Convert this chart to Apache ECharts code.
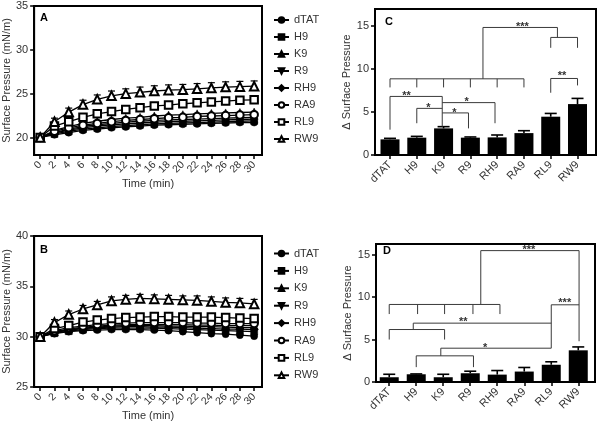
<!DOCTYPE html>
<html><head><meta charset="utf-8">
<script src="https://cdn.jsdelivr.net/npm/echarts@6/dist/echarts.min.js"></script>
<style>html,body{margin:0;padding:0;background:#fff}#c{width:600px;height:423px}</style>
</head><body><div id="c"></div>
<script>
// ---------- data ----------
const times = [0,2,4,6,8,10,12,14,16,18,20,22,24,26,28,30];
const names = ['dTAT','H9','K9','R9','RH9','RA9','RL9','RW9'];

// Panel A (initial pressure 20 mN/m)
const aDTAT = [20,20.3,20.55,20.8,20.95,21.1,21.2,21.3,21.4,21.45,21.5,21.55,21.6,21.65,21.7,21.7];
const aH9   = [20,20.4,20.7,20.95,21.1,21.25,21.35,21.45,21.55,21.6,21.65,21.7,21.75,21.8,21.85,21.9];
const aK9   = [20,20.8,21.25,21.6,21.85,22.05,22.2,22.3,22.45,22.55,22.6,22.7,22.75,22.8,22.85,22.9];
const aR9   = [20,20.55,20.95,21.25,21.45,21.6,21.75,21.85,21.95,22.0,22.05,22.1,22.15,22.2,22.25,22.3];
const aRH9  = [20,20.5,20.85,21.1,21.3,21.45,21.55,21.65,21.75,21.8,21.85,21.9,21.95,22.0,22.05,22.1];
const aRA9  = [20,20.7,21.1,21.4,21.6,21.8,21.95,22.05,22.15,22.25,22.3,22.4,22.45,22.5,22.55,22.6];
const aRL9  = [20,21.3,21.8,22.3,22.7,22.95,23.2,23.4,23.6,23.7,23.85,23.95,24.05,24.15,24.25,24.3];
const aRW9  = [20,21.8,22.9,23.75,24.35,24.75,25.0,25.15,25.3,25.4,25.45,25.55,25.65,25.75,25.8,25.85];
const aRW9Err = [0,0.4,0.45,0.5,0.5,0.55,0.55,0.6,0.6,0.6,0.6,0.6,0.6,0.6,0.6,0.6];

// Panel B (initial pressure 30 mN/m)
const bDTAT = [30,30.3,30.5,30.6,30.65,30.7,30.7,30.7,30.65,30.6,30.5,30.4,30.3,30.25,30.15,30.05];
const bH9   = [30,30.35,30.55,30.7,30.8,30.85,30.85,30.85,30.85,30.8,30.75,30.7,30.65,30.6,30.55,30.5];
const bK9   = [30,30.5,30.75,30.95,31.05,31.15,31.2,31.2,31.2,31.2,31.2,31.15,31.15,31.1,31.1,31.1];
const bR9   = [30,30.45,30.7,30.85,30.95,31.05,31.1,31.1,31.1,31.05,31.05,31.0,31.0,30.95,30.9,30.9];
const bRH9  = [30,30.4,30.65,30.8,30.9,30.95,31.0,31.0,30.95,30.95,30.9,30.85,30.8,30.75,30.75,30.7];
const bRA9  = [30,30.6,30.9,31.05,31.2,31.3,31.35,31.4,31.4,31.4,31.4,31.35,31.35,31.3,31.3,31.3];
const bRL9  = [30,30.8,31.1,31.45,31.65,31.8,31.9,31.95,32.0,32.0,31.95,31.95,31.95,31.9,31.85,31.8];
const bRW9  = [30,31.4,32.2,32.75,33.15,33.55,33.7,33.8,33.75,33.7,33.65,33.6,33.5,33.4,33.35,33.25];
const bRW9Err = [0,0.3,0.35,0.35,0.35,0.4,0.4,0.4,0.4,0.4,0.4,0.45,0.45,0.45,0.45,0.45];

// Panel C / D bars (delta surface pressure)
const cValues = [1.82,2.02,3.1,2.02,2.05,2.55,4.46,5.93];
const cErrors = [0.12,0.15,0.2,0.08,0.28,0.28,0.38,0.66];
const dValues = [0.56,0.91,0.56,1.03,0.87,1.23,2.03,3.73];
const dErrors = [0.35,0.04,0.35,0.24,0.48,0.48,0.35,0.4];

// tick labels
const timeLabelsA = [0,4,8,12,16,20,24,28];
const timeLabelsB = [2,6,10,14,18,22,26,30];
const yTicksA = [20,25,30,35];
const yTicksB = [25,30,35,40];
const yTicksBar = [0,5,10,15];
const catIdx = [0,1,2,3,4,5,6,7];

// significance annotations [x1,y1,x2,y2] in data units (category index, value)
const cBrackets = [
  [0,8.87,5,8.87],[0,8.87,0,7.87],[1,8.87,1,7.87],[2,8.87,2,7.87],[3,8.87,3,7.87],[4,8.87,4,7.87],[5,8.87,5,7.87],
  [3.47,8.87,3.47,14.85],[3.47,14.85,6.25,14.85],[6.25,14.85,6.25,13.69],
  [6,13.69,7,13.69],[6,13.69,6,12.48],[7,13.69,7,12.48],
  [6,8.91,7,8.91],[6,8.91,6,7.25],[7,8.91,7,8.1],
  [0,6.82,1.95,6.82],[0,6.82,0,2.95],[1.95,6.82,1.95,3.3],
  [1,5.43,1.95,5.43],[1,5.43,1,3.7],
  [1.95,4.9,2.93,4.9],[2.93,4.9,2.93,3.1],
  [1.95,6.1,3.92,6.1],[3.92,6.1,3.92,3.7]
];
const cStarText = ['**','*','*','*','***','**'];
const cStarPos = [[0.62,7.25],[1.43,5.85],[2.4,5.27],[2.86,6.55],[4.94,15.25],[6.42,9.6]];

const dBrackets = [
  [0,9.13,4.1,9.13],[0,9.13,0,8.0],[1.05,9.13,1.05,8.0],[2.05,9.13,2.05,8.0],[3.1,9.13,3.1,8.0],[4.1,9.13,4.1,8.0],
  [3.39,9.13,3.39,15.47],[3.39,15.47,7.03,15.47],[7.03,15.47,7.03,4.8],
  [6.0,9.09,7.03,9.09],[6.0,9.09,6.0,3.98],
  [0.89,6.93,6.0,6.93],[0.89,6.93,0.89,6.18],
  [0,6.18,2.05,6.18],[0,6.18,0,5.0],[2.05,6.18,2.05,5.0],
  [1.91,3.98,6.0,3.98],[1.91,3.98,1.91,3.08],
  [1.0,3.08,3.12,3.08],[1.0,3.08,1.0,1.75],[3.12,3.08,3.12,1.75]
];
const dStarText = ['***','***','**','*'];
const dStarPos = [[5.17,15.95],[6.5,9.65],[2.74,7.4],[3.55,4.4]];

// ---------- helpers ----------
const FONT = '"Liberation Sans", Arial, sans-serif';
const TXT = '#333';
const symbols = {
  dTAT:['circle',7], H9:['rect',7], K9:['triangle',8], R9:['path://M0,0L10,0L5,9Z',8],
  RH9:['diamond',8], RA9:['emptyCircle',7.5], RL9:['emptyRect',7.5], RW9:['emptyTriangle',8.5]
};
function lineSeries(name, vals, gi){
  const s = symbols[name];
  return {
    type:'line', name, xAxisIndex:gi, yAxisIndex:gi,
    data: times.map((t,i)=>[t, vals[i]]),
    symbol:s[0], symbolSize:s[1], showAllSymbol:true,
    lineStyle:{color:'#000', width:1.3},
    itemStyle:{color:'#000', borderColor:'#000', borderWidth: s[0].startsWith('empty') ? 1.8 : 0.5},
    emphasis:{disabled:true}, z:3
  };
}
function errRender(cap, lw){
  return function(params, api){
    const x = api.value(0), y = api.value(1), e = api.value(2);
    if (!e) return;
    const p0 = api.coord([x,y]), p1 = api.coord([x,y+e]);
    return {type:'group', children:[
      {type:'line', shape:{x1:p0[0],y1:p0[1],x2:p1[0],y2:p1[1]}, style:{stroke:'#000', lineWidth:lw}},
      {type:'line', shape:{x1:p1[0]-cap/2,y1:p1[1],x2:p1[0]+cap/2,y2:p1[1]}, style:{stroke:'#000', lineWidth:lw}}
    ]};
  };
}
function errSeries(gi, xs, vals, errs, cap, lw, z){
  return {type:'custom', xAxisIndex:gi, yAxisIndex:gi, silent:true, z:z,
    data: xs.map((x,i)=>[x, vals[i], errs[i]]), renderItem: errRender(cap, lw)};
}
function bracketSeries(gi, segs){
  return {type:'custom', xAxisIndex:gi, yAxisIndex:gi, silent:true, z:6, clip:false,
    data: segs,
    renderItem:(p, api)=>{
      const a = api.coord([api.value(0), api.value(1)]);
      const b = api.coord([api.value(2), api.value(3)]);
      return {type:'line', shape:{x1:a[0],y1:a[1],x2:b[0],y2:b[1]}, style:{stroke:'#3a3a3a', lineWidth:1}};
    }};
}
function starSeries(gi, pos, texts){
  return {type:'custom', xAxisIndex:gi, yAxisIndex:gi, silent:true, z:7, clip:false,
    data: pos,
    renderItem:(p, api)=>{
      const a = api.coord([api.value(0), api.value(1)]);
      return {type:'text', x:a[0], y:a[1] + 3, style:{text:texts[p.dataIndex], font:'bold 11px '+FONT, fill:'#333', align:'center', verticalAlign:'middle'}};
    }};
}
const tickStyle = {color:'#000', width:1.5};
// two overlapping time axes per panel, so that every tick label is kept
function timeAxis(gi, labels, main){
  const ax = {type:'value', gridIndex:gi, position:'bottom', min:-0.85, max:31.1,
    axisLine:{show:main, onZero:false, lineStyle:{color:'#000', width:2}},
    axisTick:{show:main, customValues:times, length:4, lineStyle:tickStyle},
    axisLabel:{customValues:labels, rotate:45, fontSize:10.5, color:TXT, margin:8, fontFamily:FONT,
      showMinLabel:true, showMaxLabel:true, hideOverlap:false},
    splitLine:{show:false}};
  if (main) {
    ax.name = 'Time (min)'; ax.nameLocation = 'middle'; ax.nameGap = 22;
    ax.nameTextStyle = {fontSize:11, color:TXT, fontFamily:FONT};
  }
  return ax;
}
function catAxis(gi, min, max){
  return {type:'value', gridIndex:gi, min, max,
    axisLine:{show:true, onZero:false, lineStyle:{color:'#000', width:2}},
    axisTick:{show:true, customValues:catIdx, length:4, lineStyle:tickStyle},
    axisLabel:{customValues:catIdx, rotate:45, fontSize:11, color:TXT, margin:8, fontFamily:FONT,
      showMinLabel:true, showMaxLabel:true, hideOverlap:false,
      formatter:(v)=>names[Math.round(v)]},
    splitLine:{show:false}};
}
function valAxis(gi, min, max, ticks, name, gap){
  return {type:'value', gridIndex:gi, min, max,
    axisLine:{show:true, onZero:false, lineStyle:{color:'#000', width:2}},
    axisTick:{show:true, customValues:ticks, length:4, lineStyle:tickStyle},
    axisLabel:{customValues:ticks, fontSize:11, color:TXT, margin:6, fontFamily:FONT,
      showMinLabel:true, showMaxLabel:true, hideOverlap:false},
    splitLine:{show:false},
    name, nameLocation:'middle', nameGap:gap,
    nameTextStyle:{fontSize:11, color:TXT, fontFamily:FONT}};
}

// ---------- chart ----------
const chart = echarts.init(document.getElementById('c'), null, {renderer:'canvas'});
const aSets = [aDTAT,aH9,aK9,aR9,aRH9,aRA9,aRL9,aRW9];
const bSets = [bDTAT,bH9,bK9,bR9,bRH9,bRA9,bRL9,bRW9];
const series = [];
names.forEach((n,i)=>series.push(lineSeries(n, aSets[i], 0)));
names.forEach((n,i)=>series.push(lineSeries(n, bSets[i], 1)));
series.push(errSeries(0, times, aRW9, aRW9Err, 7, 1.2, 2));
series.push(errSeries(1, times, bRW9, bRW9Err, 7, 1.2, 2));
series.push({type:'bar', xAxisIndex:2, yAxisIndex:2, data:cValues.map((v,i)=>[i,v]), barWidth:19, itemStyle:{color:'#000'}, silent:true, z:3});
series.push({type:'bar', xAxisIndex:3, yAxisIndex:3, data:dValues.map((v,i)=>[i,v]), barWidth:19, itemStyle:{color:'#000'}, silent:true, z:3});
series.push(errSeries(2, catIdx, cValues, cErrors, 12, 1.6, 4));
series.push(errSeries(3, catIdx, dValues, dErrors, 12, 1.6, 4));
series.push(bracketSeries(2, cBrackets));
series.push(bracketSeries(3, dBrackets));
series.push(starSeries(2, cStarPos, cStarText));
series.push(starSeries(3, dStarPos, dStarText));

const legendBase = {data:names, orient:'vertical', left:273, padding:0, itemWidth:15, itemHeight:7,
  textStyle:{fontSize:11, color:TXT, lineHeight:13, fontFamily:FONT}, selectedMode:false};

chart.setOption({
  animation:false,
  backgroundColor:'#fff',
  textStyle:{fontFamily:FONT},
  grid:[
    {left:34, top:6, width:228, height:149, show:true, borderColor:'#000', borderWidth:2, backgroundColor:'transparent'},
    {left:34, top:236, width:228, height:151, show:true, borderColor:'#000', borderWidth:2, backgroundColor:'transparent'},
    {left:375, top:9, width:221, height:146, show:true, borderColor:'#000', borderWidth:2, backgroundColor:'transparent'},
    {left:376, top:244, width:219, height:138, show:true, borderColor:'#000', borderWidth:2, backgroundColor:'transparent'}
  ],
  xAxis:[
    timeAxis(0, timeLabelsA, true), timeAxis(1, timeLabelsA, true),
    catAxis(2,-0.56,7.69), catAxis(3,-0.49,7.62),
    timeAxis(0, timeLabelsB, false), timeAxis(1, timeLabelsB, false)
  ],
  yAxis:[
    valAxis(0, 18, 35, yTicksA, 'Surface Pressure (mN/m)', 21),
    valAxis(1, 25, 40, yTicksB, 'Surface Pressure (mN/m)', 21),
    valAxis(2, 0, 17, yTicksBar, 'Δ Surface Pressure', 17),
    valAxis(3, 0, 16.25, yTicksBar, 'Δ Surface Pressure', 17)
  ],
  legend:[
    Object.assign({}, legendBase, {top:13.5, itemGap:4}),
    Object.assign({}, legendBase, {top:247, itemGap:4.4})
  ],
  graphic:[
    {type:'text', left:40, top:12, style:{text:'A', font:'bold 11px '+FONT, fill:'#000'}},
    {type:'text', left:40, top:244, style:{text:'B', font:'bold 11px '+FONT, fill:'#000'}},
    {type:'text', left:385, top:16, style:{text:'C', font:'bold 11px '+FONT, fill:'#000'}},
    {type:'text', left:383, top:245, style:{text:'D', font:'bold 11px '+FONT, fill:'#000'}}
  ],
  series
});
</script></body></html>
